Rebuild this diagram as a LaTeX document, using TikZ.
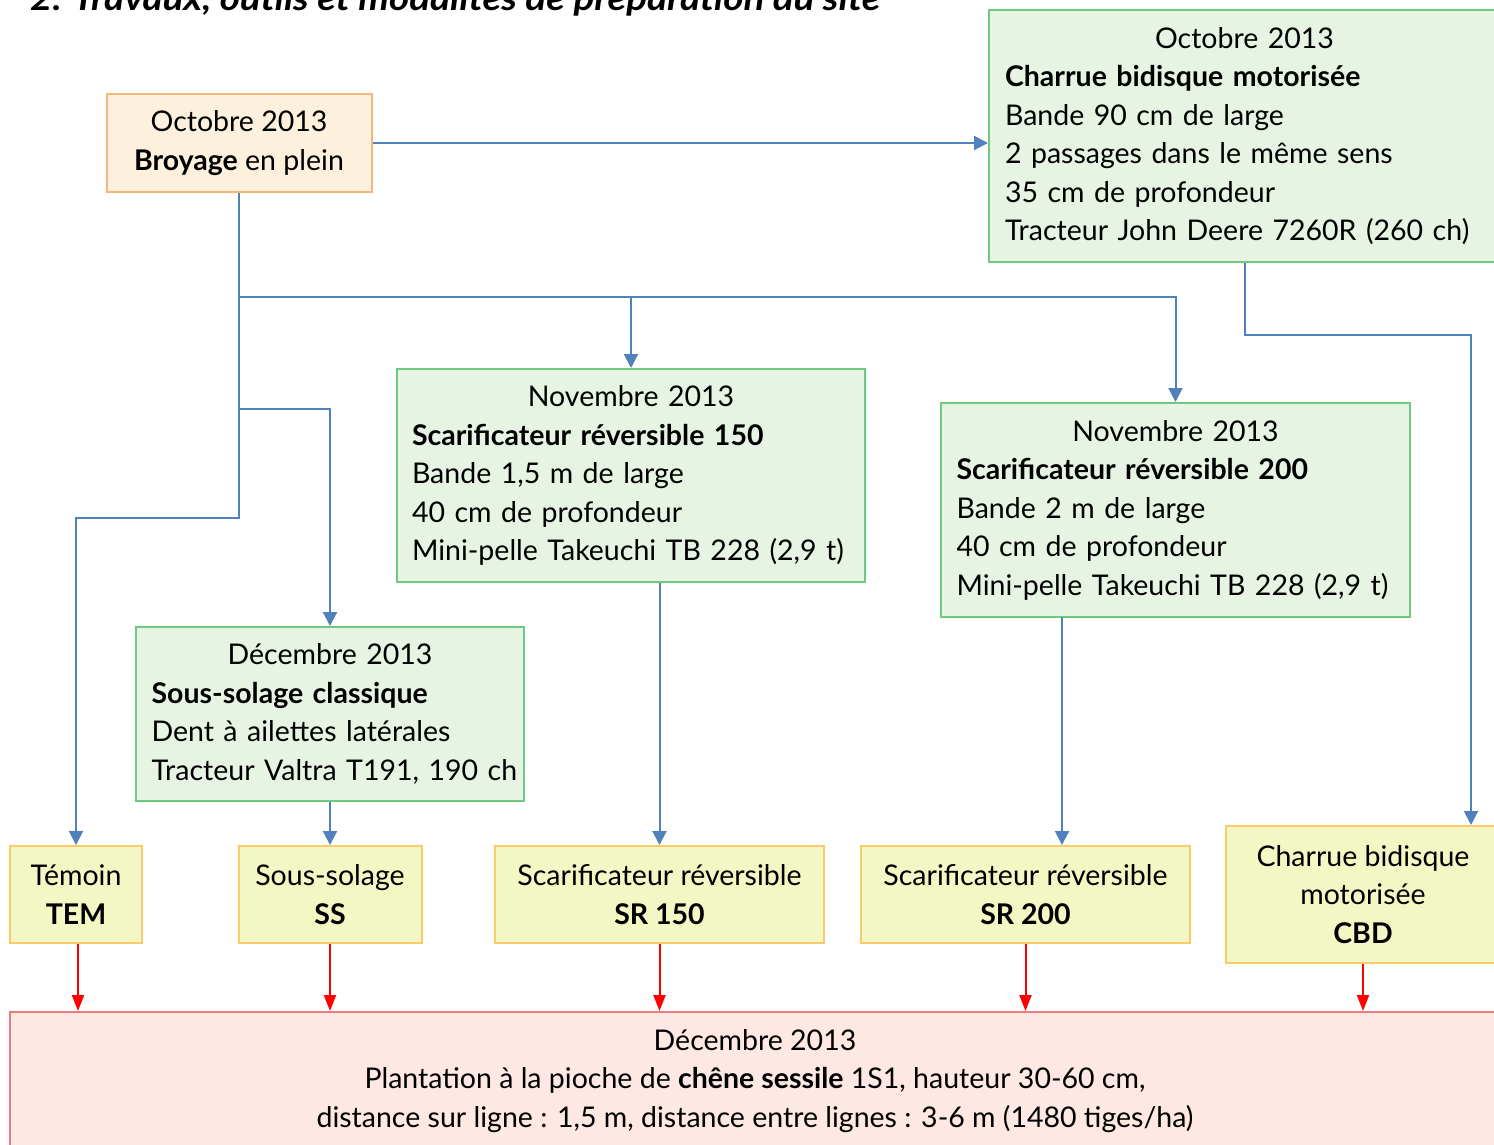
\documentclass[tikz,border=0pt]{standalone}
\usepackage{fontspec}
\setmainfont{Lato}
\usepackage{graphicx}
\usetikzlibrary{arrows.meta}
\definecolor{lnblue}{HTML}{4F81BD}
\definecolor{gborder}{HTML}{6DCB80}
\definecolor{gfill}{HTML}{E8F4E3}
\definecolor{oborder}{HTML}{F7B77A}
\definecolor{ofill}{HTML}{FDF1DE}
\definecolor{yborder}{HTML}{FACB6C}
\definecolor{yfill}{HTML}{F3F7C3}
\definecolor{rborder}{HTML}{EE7B7B}
\definecolor{rfill}{HTML}{FDE8E3}
\definecolor{rline}{HTML}{FF0000}
\newcommand{\firstline}[1]{\makebox[\linewidth][c]{#1}}
\tikzset{
  txt/.style={font=\fontsize{28.5}{38.5}\selectfont, text=black},
  basebox/.style={txt, rectangle, draw, line width=2pt, inner sep=0pt},
  gbox/.style={basebox, draw=gborder, fill=gfill, align=left},
  obox/.style={basebox, draw=oborder, fill=ofill, align=center},
  ybox/.style={basebox, draw=yborder, fill=yfill, align=center},
  rbox/.style={basebox, draw=rborder, fill=rfill, align=center},
  barrow/.style={draw=lnblue, line width=2pt, -{Triangle[width=14pt,length=14pt]}},
  rarrow/.style={draw=rline, line width=2pt, -{Triangle[width=12pt,length=16pt]}},
}
\begin{document}
\begin{tikzpicture}[x=1pt,y=-1pt]
\useasboundingbox (0,0) rectangle (1494,1144);
\clip (0,0) rectangle (1494,1144);
\fill[white] (0,0) rectangle (1494,1144);

% title (cut off at the top, as in the source)
\node[anchor=base west, inner sep=0pt, font=\fontsize{34}{40}\selectfont\bfseries\itshape] (title) at (30,10)
  {\resizebox{850pt}{\height}{2. Travaux, outils et modalités de préparation du site}};

% boxes
\node[obox, minimum width=265, minimum height=98] (broy) at (239,143)
  {Octobre 2013\\\textbf{Broyage} en plein};

\node[gbox, minimum width=511, minimum height=252, text width=479] (charrue) at (1244.5,136)
  {\firstline{Octobre 2013}\\\textbf{Charrue bidisque motorisée}\\Bande 90 cm de large\\2 passages dans le même sens\\35 cm de profondeur\\Tracteur John Deere 7260R (260 ch)};

\node[gbox, minimum width=468, minimum height=213, text width=438] (scar150) at (631,475.5)
  {\firstline{Novembre 2013}\\\textbf{Scarificateur réversible 150}\\Bande 1,5 m de large\\40 cm de profondeur\\Mini-pelle Takeuchi TB 228 (2,9 t)};

\node[gbox, minimum width=469, minimum height=214, text width=438] (scar200) at (1175.5,510)
  {\firstline{Novembre 2013}\\\textbf{Scarificateur réversible 200}\\Bande 2 m de large\\40 cm de profondeur\\Mini-pelle Takeuchi TB 228 (2,9 t)};

\node[gbox, minimum width=388, minimum height=174, text width=357] (ssc) at (330,714)
  {\firstline{Décembre 2013}\\\textbf{Sous-solage classique}\\Dent à ailettes latérales\\\mbox{Tracteur Valtra T191, 190 ch}};

\node[ybox, minimum width=132, minimum height=97] (tem) at (76,894.5)
  {Témoin\\\textbf{TEM}};
\node[ybox, minimum width=183, minimum height=97] (ss) at (330,894.5)
  {Sous-solage\\\textbf{SS}};
\node[ybox, minimum width=329, minimum height=97] (sr150) at (659.5,894.5)
  {Scarificateur réversible\\\textbf{SR 150}};
\node[ybox, minimum width=329, minimum height=97] (sr200) at (1025.5,894.5)
  {Scarificateur réversible\\\textbf{SR 200}};
\node[ybox, minimum width=274, minimum height=137] (cbd) at (1363,894.5)
  {Charrue bidisque\\motorisée\\\textbf{CBD}};

\node[rbox, minimum width=1490, minimum height=138] (plant) at (755,1081)
  {Décembre 2013\\Plantation à la pioche de \textbf{chêne sessile} 1S1, hauteur 30-60 cm,\\distance sur ligne : 1,5 m, distance entre lignes : 3-6 m (1480 tiges/ha)};

% junction coordinates
\coordinate (j1) at (239,297);
\coordinate (j2) at (239,409);
\coordinate (j3) at (239,518);
\coordinate (k) at (1471,335);
\coordinate (m) at (1062,617);
\coordinate (t) at (78,943);

% blue connectors
\draw[barrow] (broy.east) -- (broy.east -| charrue.west);
\draw[barrow] (broy.south) -- (j3) -| (tem.north);
\draw[barrow] (j1) -| (scar150.north);
\draw[barrow] (j1) -| (scar200.north);
\draw[barrow] (j2) -| (ssc.north);
\draw[barrow] (charrue.south) |- (k) -- (k |- cbd.north);
\draw[barrow] (sr150.north |- scar150.south) -- (sr150.north);
\draw[barrow] (m) -- (m |- sr200.north);
\draw[barrow] (ssc.south) -- (ss.north);

% red connectors
\draw[rarrow] (t |- tem.south) -- (t |- plant.north);
\draw[rarrow] (ss.south) -- (ss.south |- plant.north);
\draw[rarrow] (sr150.south) -- (sr150.south |- plant.north);
\draw[rarrow] (sr200.south) -- (sr200.south |- plant.north);
\draw[rarrow] (cbd.south) -- (cbd.south |- plant.north);
\end{tikzpicture}
\end{document}
